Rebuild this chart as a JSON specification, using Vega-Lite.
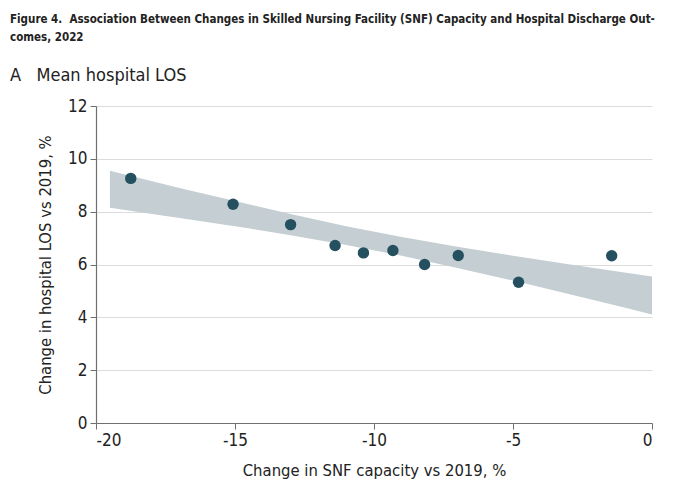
{
  "$schema": "https://vega.github.io/schema/vega-lite/v6.json",
  "width": 556,
  "height": 317,
  "autosize": "none",
  "padding": {"left": 96, "top": 106, "right": 28, "bottom": 64},
  "background": "white",
  "title": {
    "text": ["Figure 4.\u00a0 Association Between Changes in Skilled Nursing Facility (SNF) Capacity and Hospital Discharge Out-", "comes, 2022"],
    "subtitle": "A\u00a0\u00a0 Mean hospital LOS",
    "anchor": "start",
    "frame": "group",
    "dx": -86,
    "offset": 12,
    "font": "DejaVu Sans Condensed, sans-serif",
    "fontSize": 11.5,
    "fontWeight": "bold",
    "color": "#222222",
    "lineHeight": 18,
    "subtitleFont": "DejaVu Sans Condensed, sans-serif",
    "subtitleFontSize": 18,
    "subtitleColor": "#222222",
    "subtitlePadding": 24
  },
  "datasets": {
    "points": [
      {"snf": -18.75, "los": 9.26},
      {"snf": -15.07, "los": 8.28},
      {"snf": -13.0, "los": 7.51},
      {"snf": -11.4, "los": 6.72},
      {"snf": -10.38, "los": 6.44},
      {"snf": -9.32, "los": 6.53},
      {"snf": -8.18, "los": 6.0},
      {"snf": -6.97, "los": 6.34},
      {"snf": -4.8, "los": 5.33},
      {"snf": -1.45, "los": 6.33}
    ],
    "band": [
      {"snf": -19.5, "lo": 8.15, "hi": 9.55},
      {"snf": -17, "lo": 7.76, "hi": 8.9},
      {"snf": -15, "lo": 7.45, "hi": 8.4},
      {"snf": -13, "lo": 7.11, "hi": 7.91},
      {"snf": -11, "lo": 6.74, "hi": 7.45},
      {"snf": -9, "lo": 6.33, "hi": 7.04},
      {"snf": -7, "lo": 5.87, "hi": 6.67},
      {"snf": -5, "lo": 5.39, "hi": 6.33},
      {"snf": -3, "lo": 4.88, "hi": 6.01},
      {"snf": -1, "lo": 4.37, "hi": 5.7},
      {"snf": 0, "lo": 4.11, "hi": 5.55}
    ]
  },
  "config": {
    "view": {"stroke": null},
    "axis": {
      "labelFont": "DejaVu Sans Condensed, sans-serif",
      "titleFont": "DejaVu Sans Condensed, sans-serif",
      "labelFontSize": 17,
      "titleFontSize": 16.5,
      "titleFontWeight": "normal",
      "labelColor": "#222222",
      "titleColor": "#222222",
      "domainColor": "#707070",
      "tickColor": "#707070",
      "tickSize": 6,
      "domainWidth": 1.2,
      "gridColor": "#dcdcdc",
      "gridWidth": 1
    }
  },
  "layer": [
    {
      "data": {"name": "band"},
      "mark": {"type": "area", "color": "#c5ced3", "opacity": 1},
      "encoding": {
        "x": {
          "field": "snf",
          "type": "quantitative",
          "scale": {"domain": [-20, 0], "nice": false},
          "axis": {
            "values": [-20, -15, -10, -5, 0],
            "grid": false,
            "labelExpr": "'' + datum.value",
            "title": "Change in SNF capacity vs 2019, %",
            "titlePadding": 14,
            "labelPadding": 3
          }
        },
        "y": {
          "field": "lo",
          "type": "quantitative",
          "scale": {"domain": [0, 12], "nice": false},
          "axis": {
            "values": [0, 2, 4, 6, 8, 10, 12],
            "grid": true,
            "title": "Change in hospital LOS vs 2019, %",
            "titlePadding": 14,
            "labelPadding": 3
          }
        },
        "y2": {"field": "hi"}
      }
    },
    {
      "data": {"name": "points"},
      "mark": {"type": "circle", "color": "#24505f", "opacity": 1, "size": 130},
      "encoding": {
        "x": {"field": "snf", "type": "quantitative"},
        "y": {"field": "los", "type": "quantitative"}
      }
    }
  ]
}
